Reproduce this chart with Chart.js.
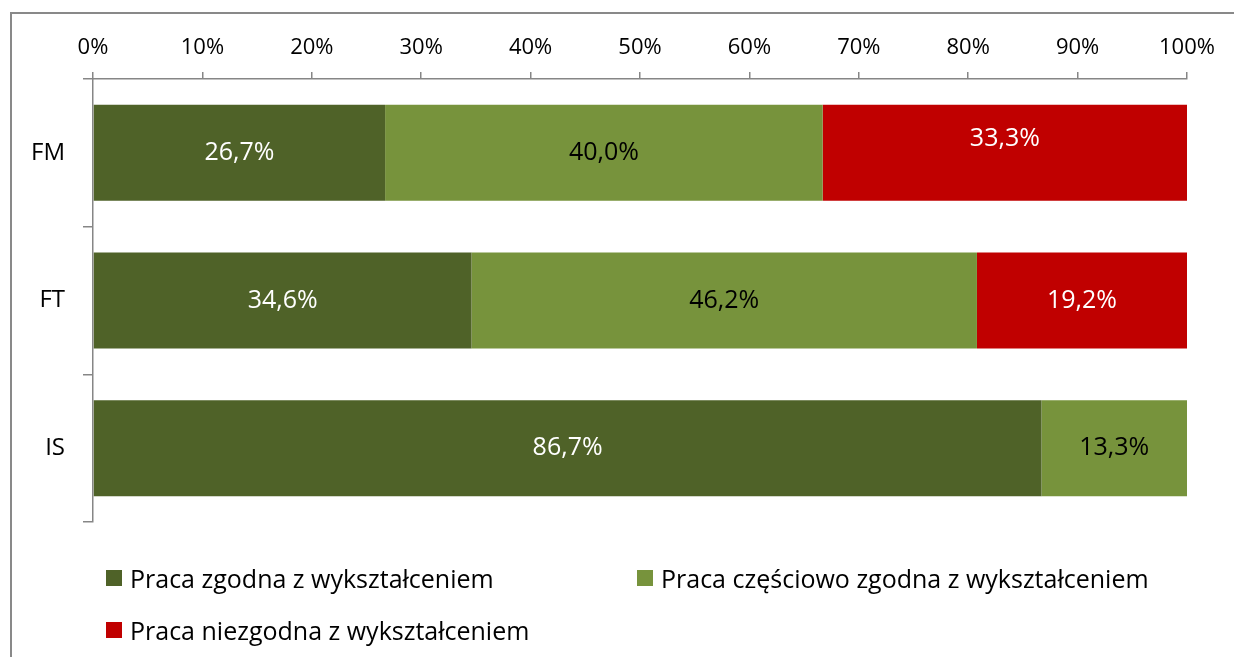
<!DOCTYPE html>
<html>
<head>
<meta charset="utf-8">
<script src="https://cdn.jsdelivr.net/npm/chart.js@4.4.1/dist/chart.umd.min.js"></script>
<style>
  html, body { margin: 0; padding: 0; background: #fff; }
  body { width: 1234px; height: 657px; position: relative; overflow: hidden; font-family: "Open Sans", "Liberation Sans", sans-serif; }
  #frame { position: absolute; left: 10px; top: 12px; width: 1240px; height: 700px; border: 2px solid #898989; box-sizing: border-box; }
  #wrap { position: absolute; left: 0; top: 0; width: 1234px; height: 657px; }
  #legend { position: absolute; left: 0; top: 0; width: 1234px; height: 657px; pointer-events: none; }
  .li { position: absolute; display: flex; align-items: center; font-size: 25px; color: #000; white-space: nowrap; height: 30px; }
  .sw { width: 16px; height: 16px; margin-right: 8px; }
</style>
</head>
<body>
<div id="frame"></div>
<div id="wrap"><canvas id="c" width="1234" height="657"></canvas></div>
<div id="legend"></div>
<script>
const categories = ["FM", "FT", "IS"];
const seriesNames = ["Praca zgodna z wykształceniem", "Praca częściowo zgodna z wykształceniem", "Praca niezgodna z wykształceniem"];
const zgodna = [26.7, 34.6, 86.7];
const czesciowo = [40.0, 46.2, 13.3];
const niezgodna = [33.3, 19.2, null];
const xTicks = [0, 10, 20, 30, 40, 50, 60, 70, 80, 90, 100];

const colors = ["#4F6228", "#77933C", "#C00000"];
const labelColors = ["#ffffff", "#000000", "#ffffff"];
const labelShift = [[0, 0, 0], [0, 0, 0], [-14, 0, 0]];
const FONT = "Open Sans";

const labelPlugin = {
  id: "barLabels",
  afterDatasetsDraw(chart) {
    const ctx = chart.ctx;
    ctx.save();
    ctx.font = "25px '" + FONT + "'";
    ctx.textAlign = "center";
    ctx.textBaseline = "middle";
    chart.data.datasets.forEach((ds, di) => {
      const meta = chart.getDatasetMeta(di);
      meta.data.forEach((bar, i) => {
        const v = ds.data[i];
        if (v === null || v === undefined) return;
        const cx = (bar.x + bar.base) / 2;
        ctx.fillStyle = labelColors[di];
        ctx.fillText(v.toFixed(1).replace(".", ",") + "%", cx, bar.y + labelShift[di][i]);
      });
    });
    ctx.restore();
  }
};

const datasets = [zgodna, czesciowo, niezgodna].map((d, i) => ({
  label: seriesNames[i],
  data: d,
  backgroundColor: colors[i],
  borderWidth: 0,
  categoryPercentage: 1,
  barPercentage: 0.65
}));

new Chart(document.getElementById("c"), {
  type: "bar",
  data: { labels: categories, datasets },
  plugins: [labelPlugin],
  options: {
    indexAxis: "y",
    responsive: false,
    animation: false,
    devicePixelRatio: 1,
    layout: { padding: { left: 0, top: 0, right: 47, bottom: 135 } },
    plugins: { legend: { display: false }, tooltip: { enabled: false } },
    scales: {
      x: {
        position: "top",
        stacked: true,
        min: 0, max: 100,
        afterBuildTicks(s) { s.ticks = xTicks.map(v => ({ value: v })); },
        afterFit(s) { s.height = 79; },
        ticks: { font: { family: FONT, size: 22 }, color: "#000", padding: 11, callback: v => v + "%" },
        grid: { drawOnChartArea: false, drawTicks: true, tickLength: 7, color: "#868686", lineWidth: 1.5 },
        border: { color: "#868686", width: 1.5 }
      },
      y: {
        stacked: true,
        afterFit(s) { s.width = 93; },
        ticks: { font: { family: FONT, size: 24 }, color: "#000", padding: 18 },
        grid: { offset: true, drawOnChartArea: false, drawTicks: true, tickLength: 10, color: "#868686", lineWidth: 1.5 },
        border: { color: "#868686", width: 1.5 }
      }
    }
  }
});

const legendPos = [[106, 563], [637, 563], [106, 615]];
const lg = document.getElementById("legend");
seriesNames.forEach((n, i) => {
  const d = document.createElement("div");
  d.className = "li";
  d.style.left = legendPos[i][0] + "px";
  d.style.top = legendPos[i][1] + "px";
  const sw = document.createElement("span");
  sw.className = "sw";
  sw.style.background = colors[i];
  const t = document.createElement("span");
  t.textContent = n;
  d.appendChild(sw); d.appendChild(t);
  lg.appendChild(d);
});
</script>
</body>
</html>
